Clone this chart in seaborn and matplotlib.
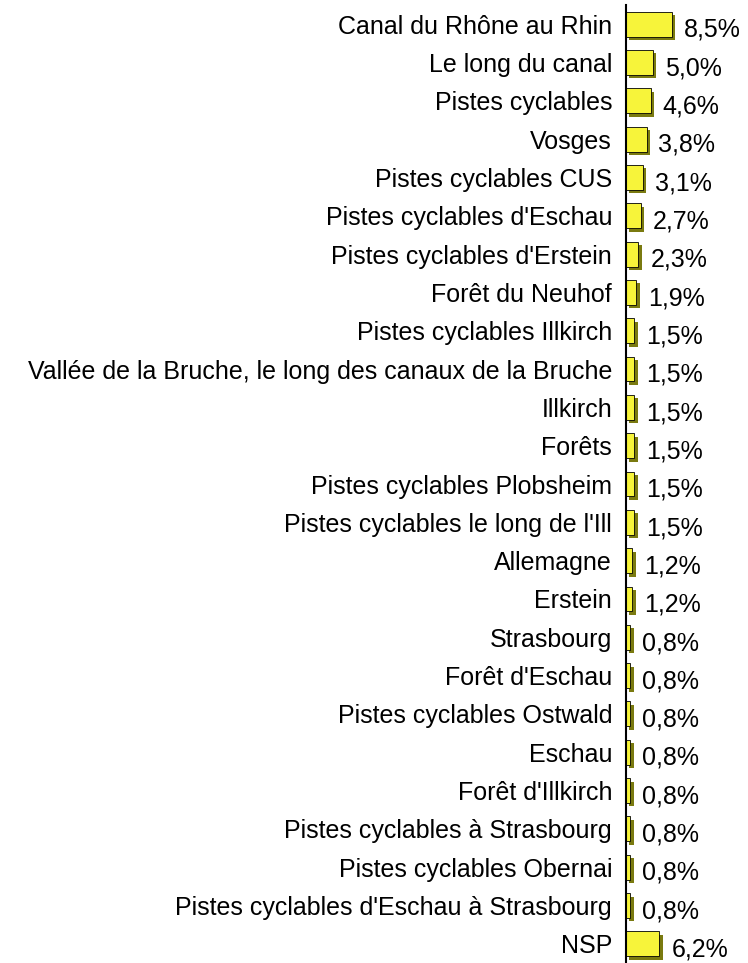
import pandas as pd
import seaborn as sns
import matplotlib.pyplot as plt
import matplotlib.patheffects as pe

# Lieux de balade à vélo
categories = [
    "Canal du Rhône au Rhin", "Le long du canal", "Pistes cyclables", "Vosges",
    "Pistes cyclables CUS", "Pistes cyclables d'Eschau", "Pistes cyclables d'Erstein",
    "Forêt du Neuhof", "Pistes cyclables Illkirch",
    "Vallée de la Bruche, le long des canaux de la Bruche", "Illkirch", "Forêts",
    "Pistes cyclables Plobsheim", "Pistes cyclables le long de l'Ill", "Allemagne",
    "Erstein", "Strasbourg", "Forêt d'Eschau", "Pistes cyclables Ostwald", "Eschau",
    "Forêt d'Illkirch", "Pistes cyclables à Strasbourg", "Pistes cyclables Obernai",
    "Pistes cyclables d'Eschau à Strasbourg", "NSP",
]
values = [8.5, 5.0, 4.6, 3.8, 3.1, 2.7, 2.3, 1.9, 1.5, 1.5, 1.5, 1.5, 1.5, 1.5,
          1.2, 1.2, 0.8, 0.8, 0.8, 0.8, 0.8, 0.8, 0.8, 0.8, 6.2]

df = pd.DataFrame({"lieu": categories, "pct": values})

sns.set_style("white")
plt.rcParams['font.family'] = ['Liberation Sans', 'DejaVu Sans']
plt.rcParams['text.color'] = 'black'
plt.rcParams['ytick.color'] = 'black'

fig = plt.figure(figsize=(7.48, 9.63), dpi=100)
ax = fig.add_axes([626 / 748, 0, 122 / 748, 958 / 963])

sns.barplot(data=df, x="pct", y="lieu", color="#F7F43A", width=0.65,
            edgecolor="black", linewidth=0.6, ax=ax, saturation=1)

for bar in ax.patches:
    bar.set_path_effects([
        pe.SimplePatchShadow(offset=(2.5, -2.5), shadow_rgbFace="#7A7A10", alpha=1),
        pe.Normal(),
    ])

for i, v in enumerate(values):
    ax.text(v + 2.2, i + 0.15, f"{v:.1f}%".replace(".", ","), va="center",
            ha="left", fontsize=18, color="black")

ax.set_xlim(0, 122 / 5.4)
ax.set_ylim(len(values) - 0.5, -0.5)
ax.set_xlabel("")
ax.set_ylabel("")
ax.set_xticks([])
ax.tick_params(axis="y", length=0, pad=10, labelsize=18, labelcolor="black")
for s in ["top", "right", "bottom"]:
    ax.spines[s].set_visible(False)
ax.spines["left"].set_color("black")
ax.spines["left"].set_linewidth(1.5)
ax.patch.set_alpha(0)

fig.savefig("out.png", dpi=100)
